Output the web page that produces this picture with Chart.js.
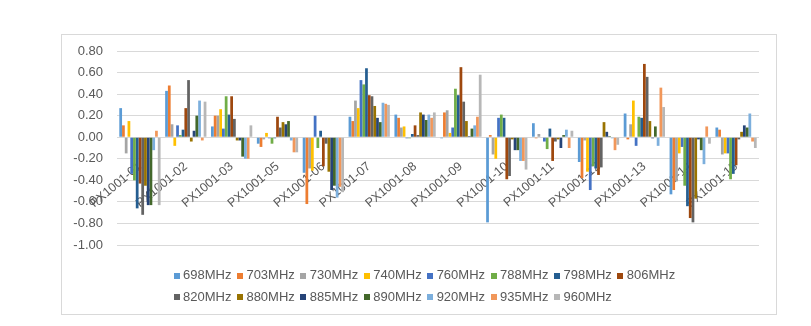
<!DOCTYPE html>
<html>
<head>
<meta charset="utf-8">
<script src="https://cdn.jsdelivr.net/npm/chart.js@4.4.1/dist/chart.umd.min.js"></script>
<style>
  html, body { margin: 0; background: #fff; }
  #frame {
    position: absolute; left: 61px; top: 34px;
    width: 716px; height: 281px;
    box-sizing: border-box; border: 1px solid #d9d9d9;
  }
  canvas { display: block; }
</style>
</head>
<body>
<div id="frame"><canvas id="chart" width="714" height="279"></canvas></div>
<script>
// sites on the x axis
const sites = ['PX1001-01', 'PX1001-02', 'PX1001-03', 'PX1001-05', 'PX1001-06', 'PX1001-07', 'PX1001-08',
  'PX1001-09', 'PX1001-10', 'PX1001-11', 'PX1001-12', 'PX1001-13', 'PX1001-14', 'PX1001-15'];

const bands = ['698MHz', '703MHz', '730MHz', '740MHz', '760MHz', '788MHz', '798MHz', '806MHz',
  '820MHz', '880MHz', '885MHz', '890MHz', '920MHz', '935MHz', '960MHz'];

// one array per band, one value per site
const f698 = [0.27, 0.43, 0.10, -0.06, -0.33, 0.19, 0.21, -0.01, -0.79, 0.13, -0.23, 0.22, -0.53, 0.09];
const f703 = [0.11, 0.48, 0.20, -0.09, -0.62, 0.15, 0.18, 0.23, 0.02, -0.01, -0.38, -0.02, -0.49, 0.07];
const f730 = [-0.15, 0.12, 0.20, -0.02, -0.29, 0.34, 0.09, 0.25, -0.16, 0.03, -0.03, 0.12, -0.41, -0.16];
const f740 = [0.15, -0.08, 0.26, 0.04, -0.31, 0.27, 0.10, 0.04, -0.20, 0.00, -0.32, 0.34, -0.15, -0.15];
const f760 = [-0.34, 0.11, 0.08, -0.01, 0.20, 0.53, -0.01, 0.09, 0.18, -0.04, -0.49, -0.08, -0.09, -0.15];
const f788 = [-0.40, 0.02, 0.38, -0.06, -0.10, 0.49, -0.01, 0.45, 0.21, -0.11, -0.27, 0.19, -0.45, -0.39];
const f798 = [-0.66, 0.07, 0.21, -0.01, 0.06, 0.64, 0.03, 0.39, 0.18, 0.08, -0.29, 0.18, -0.64, -0.34];
const f806 = [-0.43, 0.27, 0.38, 0.19, -0.27, 0.39, 0.11, 0.65, -0.39, -0.22, -0.35, 0.68, -0.75, -0.26];
const f820 = [-0.72, 0.53, 0.17, 0.09, -0.06, 0.38, 0.02, 0.33, -0.36, -0.04, -0.28, 0.56, -0.79, -0.02];
const f880 = [-0.45, -0.04, -0.03, 0.14, -0.32, 0.29, 0.23, 0.15, -0.02, -0.02, 0.14, 0.15, -0.57, 0.05];
const f885 = [-0.63, 0.06, -0.03, 0.12, -0.49, 0.18, 0.21, 0.01, -0.12, -0.10, 0.05, -0.01, -0.02, 0.11];
const f890 = [-0.63, 0.20, -0.18, 0.15, -0.45, 0.14, 0.16, 0.08, -0.12, 0.02, 0.01, 0.10, -0.12, 0.09];
const f920 = [-0.12, 0.34, -0.20, -0.03, -0.56, 0.32, 0.21, 0.11, -0.22, 0.07, -0.01, -0.08, -0.25, 0.22];
const f935 = [0.06, -0.03, -0.20, -0.14, -0.46, 0.31, 0.18, 0.19, -0.22, -0.10, -0.12, 0.46, 0.10, -0.04];
const f960 = [-0.63, 0.33, 0.11, -0.14, -0.51, 0.30, 0.23, 0.58, -0.30, 0.06, -0.07, 0.28, -0.06, -0.10];

const series = [f698, f703, f730, f740, f760, f788, f798, f806, f820, f880, f885, f890, f920, f935, f960];

const yTicks = [-1.0, -0.8, -0.6, -0.4, -0.2, 0.0, 0.2, 0.4, 0.6, 0.8];

const palette = ['#5b9bd5', '#ed7d31', '#a5a5a5', '#ffc000', '#4472c4', '#70ad47', '#255e91', '#9e480e',
  '#636363', '#997300', '#264478', '#43682b', '#7cafdd', '#f1975a', '#b7b7b7'];

const FONT = "'Liberation Sans', Arial, sans-serif";
const INK = '#595959';

// small square used as the legend marker
function swatch(color) {
  const c = document.createElement('canvas');
  c.width = 6; c.height = 6;
  const g = c.getContext('2d');
  g.fillStyle = color;
  g.fillRect(0, 0, 6, 6);
  return c;
}

// keep the legend grid left aligned under the plot, 8 entries on the first row
const legendSpot = {
  id: 'legendSpot',
  afterLayout(chart) {
    const lg = chart.legend;
    lg.left = 106;
    lg.right = 650;
    lg.top = 225.5;
    lg.bottom = 279;
  }
};

const datasets = bands.map((name, i) => ({
  label: name,
  data: series[i],
  backgroundColor: palette[i],
  pointStyle: swatch(palette[i]),
  borderWidth: 0,
  categoryPercentage: 0.9,
  barPercentage: 1.0
}));

new Chart(document.getElementById('chart'), {
  type: 'bar',
  data: { labels: sites, datasets: datasets },
  options: {
    responsive: false,
    animation: false,
    events: [],
    layout: { padding: { top: 16, right: 17, bottom: 16, left: 0 } },
    plugins: {
      tooltip: { enabled: false },
      legend: {
        position: 'bottom',
        align: 'start',
        labels: {
          usePointStyle: true,
          pointStyleWidth: 0.0001,
          boxHeight: 6,
          padding: 8.5,
          color: INK,
          font: { family: FONT, size: 13 }
        }
      }
    },
    scales: {
      x: {
        position: { y: 0 },
        grid: { display: false, drawTicks: false },
        border: { display: false },
        ticks: {
          autoSkip: false,
          minRotation: 40,
          maxRotation: 40,
          padding: 22,
          color: INK,
          font: { family: FONT, size: 12.5 }
        }
      },
      y: {
        min: yTicks[0],
        max: yTicks[yTicks.length - 1],
        afterBuildTicks(scale) {
          scale.ticks = yTicks.map(v => ({ value: v }));
        },
        afterFit(scale) {
          scale.width = 55;
          // the tick padding is horizontal only, don't let it push the plot down
          scale.paddingTop = 0;
          scale.paddingBottom = 0;
        },
        grid: { color: '#d9d9d9', drawTicks: false },
        border: { display: false },
        ticks: {
          padding: 14,
          color: INK,
          font: { family: FONT, size: 13 },
          callback: v => v.toFixed(2)
        }
      }
    }
  },
  plugins: [legendSpot]
});
</script>
</body>
</html>
